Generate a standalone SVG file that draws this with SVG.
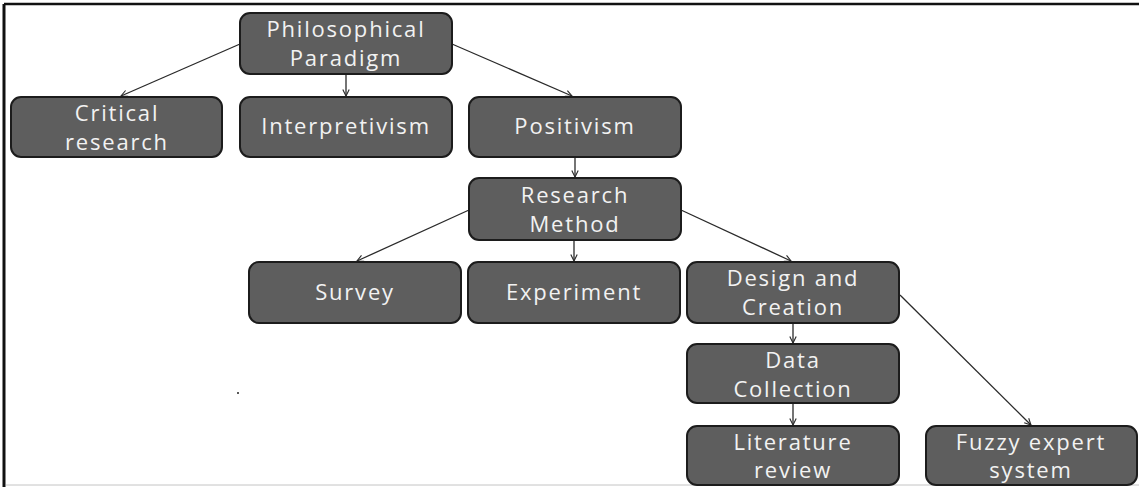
<svg xmlns="http://www.w3.org/2000/svg" width="1139" height="487" viewBox="0 0 1139 487">
  <style>
    .box { fill: #5e5e5e; stroke: #1c1c1c; stroke-width: 2; }
    .lbl { font-family: "Open Sans", "DejaVu Sans", sans-serif; font-size: 22px; fill: #f2f2f2; text-anchor: middle; letter-spacing: 1.8px; }
    .edge { stroke: #2a2a2a; stroke-width: 1.3; fill: none; marker-end: url(#arr); }
    .frame { stroke: #111; fill: none; }
  </style>
  <defs>
    <marker id="arr" viewBox="0 0 10 10" refX="9" refY="5" markerWidth="8" markerHeight="8" markerUnits="userSpaceOnUse" orient="auto">
      <path d="M1,1 L9,5 L1,9" fill="none" stroke="#2a2a2a" stroke-width="1.4"/>
    </marker>
  </defs>
  <rect width="1139" height="487" fill="#ffffff"/>
  <g id="frame">
    <line class="frame" x1="4" y1="4" x2="1139" y2="4" stroke-width="2.5"/>
    <line class="frame" x1="4" y1="4" x2="4" y2="487" stroke-width="3"/>
    <line x1="6" y1="485" x2="1139" y2="485" stroke="#c4c4c4" stroke-width="1"/>
    <circle cx="238" cy="393" r="1" fill="#222"/>
  </g>
  <g id="connectors">
    <line class="edge" x1="240" y1="44" x2="121" y2="96"/>
    <line class="edge" x1="346" y1="74" x2="346" y2="96"/>
    <line class="edge" x1="452" y1="44" x2="572" y2="96"/>
    <line class="edge" x1="575" y1="157" x2="575" y2="177"/>
    <line class="edge" x1="469" y1="210" x2="357" y2="261"/>
    <line class="edge" x1="574" y1="240" x2="574" y2="261"/>
    <line class="edge" x1="681" y1="210" x2="791" y2="261"/>
    <line class="edge" x1="793" y1="323" x2="793" y2="343"/>
    <line class="edge" x1="793" y1="403" x2="793" y2="425"/>
    <line class="edge" x1="900" y1="295" x2="1031" y2="425"/>
  </g>
  <g id="n-philosophical">
    <rect class="box" x="240" y="13" width="212" height="61" rx="10"/>
    <text class="lbl" x="346" y="37">Philosophical</text>
    <text class="lbl" x="346" y="66">Paradigm</text>
  </g>
  <g id="n-critical">
    <rect class="box" x="11" y="97" width="211" height="60" rx="10"/>
    <text class="lbl" x="117" y="121">Critical</text>
    <text class="lbl" x="117" y="150">research</text>
  </g>
  <g id="n-interpretivism">
    <rect class="box" x="240" y="97" width="212" height="60" rx="10"/>
    <text class="lbl" x="346" y="134">Interpretivism</text>
  </g>
  <g id="n-positivism">
    <rect class="box" x="469" y="97" width="212" height="60" rx="10"/>
    <text class="lbl" x="575" y="134">Positivism</text>
  </g>
  <g id="n-research-method">
    <rect class="box" x="469" y="178" width="212" height="62" rx="10"/>
    <text class="lbl" x="575" y="203">Research</text>
    <text class="lbl" x="575" y="232">Method</text>
  </g>
  <g id="n-survey">
    <rect class="box" x="249" y="262" width="212" height="61" rx="10"/>
    <text class="lbl" x="355" y="300">Survey</text>
  </g>
  <g id="n-experiment">
    <rect class="box" x="468" y="262" width="212" height="61" rx="10"/>
    <text class="lbl" x="574" y="300">Experiment</text>
  </g>
  <g id="n-design-creation">
    <rect class="box" x="687" y="262" width="212" height="61" rx="10"/>
    <text class="lbl" x="793" y="286">Design and</text>
    <text class="lbl" x="793" y="315">Creation</text>
  </g>
  <g id="n-data-collection">
    <rect class="box" x="687" y="344" width="212" height="59" rx="10"/>
    <text class="lbl" x="793" y="368">Data</text>
    <text class="lbl" x="793" y="397">Collection</text>
  </g>
  <g id="n-literature-review">
    <rect class="box" x="687" y="426" width="212" height="59" rx="10"/>
    <text class="lbl" x="793" y="450">Literature</text>
    <text class="lbl" x="793" y="478">review</text>
  </g>
  <g id="n-fuzzy">
    <rect class="box" x="926" y="426" width="211" height="59" rx="10"/>
    <text class="lbl" x="1031" y="450">Fuzzy expert</text>
    <text class="lbl" x="1031" y="478">system</text>
  </g>
</svg>
